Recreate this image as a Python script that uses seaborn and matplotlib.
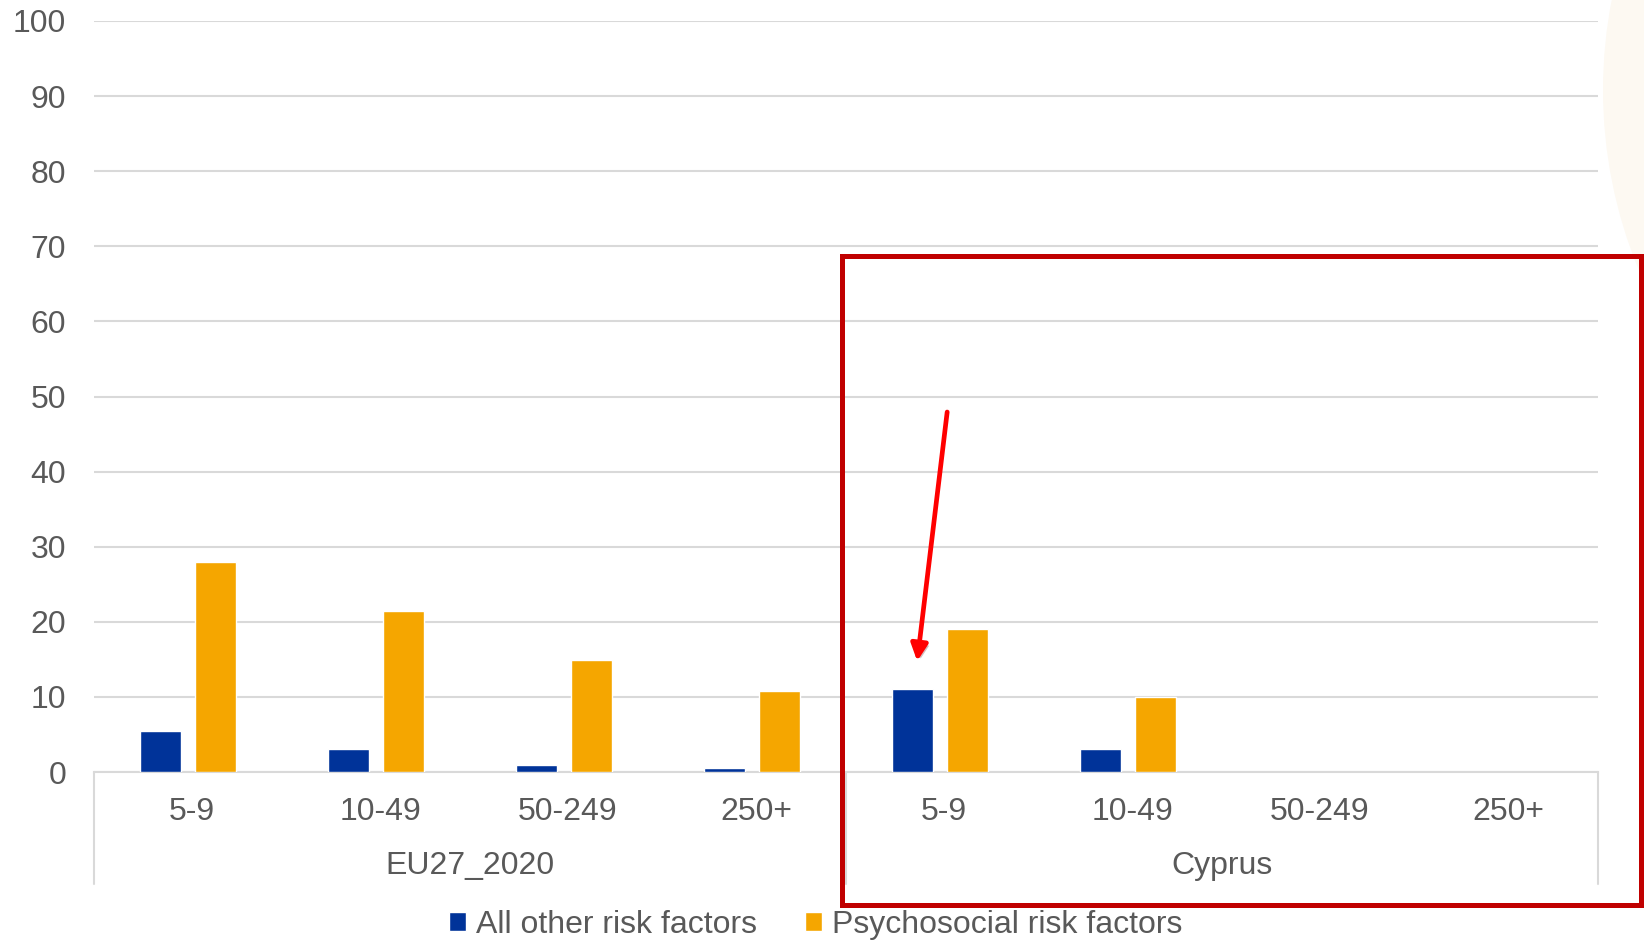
import numpy as np
import pandas as pd
import matplotlib
matplotlib.use("Agg")
import matplotlib.pyplot as plt
import matplotlib.patheffects as pe
from matplotlib.patches import Rectangle, Ellipse
from matplotlib.transforms import blended_transform_factory, ScaledTranslation
import seaborn as sns

# データ
groups = ["EU27_2020", "Cyprus"]
sizes = ["5-9", "10-49", "50-249", "250+"]
series = ["All other risk factors", "Psychosocial risk factors"]
other_risk = [5.4, 3.1, 0.9, 0.5, 11.0, 3.0, np.nan, np.nan]
psycho_risk = [28.0, 21.4, 14.9, 10.8, 19.0, 10.0, np.nan, np.nan]

colors = ["#003399", "#F5A600"]
text_col = "#595959"
grid_col = "#D9D9D9"
fs = 23

cats = [f"{g}|{s}" for g in groups for s in sizes]
df = pd.DataFrame({
    "cat": cats * 2,
    "series": [series[0]] * len(cats) + [series[1]] * len(cats),
    "value": other_risk + psycho_risk,
})

sns.set_style("white")
plt.rcParams["font.family"] = ["Liberation Sans", "DejaVu Sans"]

fig = plt.figure(figsize=(16.44, 9.43), dpi=100)

# 右上の薄い円（背景装飾）
fig.add_artist(Ellipse((2074 / 1644, 1 - 90 / 943), 2 * 471 / 1644, 2 * 471 / 943,
                       transform=fig.transFigure, facecolor="#FDF9F2",
                       edgecolor="none", zorder=0))

ax = fig.add_axes([94 / 1644, 1 - 772 / 943, (1598 - 94) / 1644, (772 - 21) / 943])
ax.patch.set_alpha(0)

sns.barplot(data=df, x="cat", y="value", hue="series", order=cats,
            hue_order=series, palette=colors, saturation=1, width=0.58,
            gap=0.25, errorbar=None, ax=ax, zorder=3)

ax.set_ylim(0, 100)
ax.set_xlim(-0.5, len(cats) - 0.5)
ax.set_yticks(range(0, 101, 10))
ax.yaxis.grid(True, color=grid_col, linewidth=1.5, zorder=0)
ax.set_axisbelow(True)
for s in ["top", "right", "left"]:
    ax.spines[s].set_visible(False)
ax.spines["bottom"].set_color(grid_col)
ax.spines["bottom"].set_linewidth(1.5)

ax.set_xticks(range(len(cats)))
ax.set_xticklabels(sizes * len(groups))
ax.tick_params(axis="x", length=0, pad=18, labelsize=fs, labelcolor=text_col)
ax.tick_params(axis="y", length=0, pad=20, labelsize=fs, labelcolor=text_col)
ax.set_xlabel("")
ax.set_ylabel("")
shift = ScaledTranslation(4 / 100, 0, fig.dpi_scale_trans)
for lab in ax.get_xticklabels():
    lab.set_transform(lab.get_transform() + shift)

# グループ区切り線とグループ名
trans = blended_transform_factory(ax.transData, ax.transAxes)
for xb in [-0.5, 3.5, 7.5]:
    ax.plot([xb, xb], [0, -0.149], transform=trans, color=grid_col,
            linewidth=1.5, clip_on=False)
for i, g in enumerate(groups):
    ax.text(i * len(sizes) + 1.5, -0.125, g, transform=trans, ha="center",
            va="center", fontsize=fs, color=text_col)

# 凡例
sns.move_legend(ax, "center", bbox_to_anchor=(0.496, 0.019),
                bbox_transform=fig.transFigure, ncol=2, frameon=False,
                title=None, fontsize=fs, handlelength=0.55, handleheight=0.55,
                handletextpad=0.3, columnspacing=1.5)
for t in ax.get_legend().get_texts():
    t.set_color(text_col)

# 赤枠
fig.add_artist(Rectangle((842 / 1644, 1 - 905 / 943), (1641 - 842) / 1644,
                         (905 - 256) / 943, transform=fig.transFigure,
                         fill=False, edgecolor="#C00000", linewidth=3.6,
                         zorder=10))

# 矢印
ax.annotate("", xy=(3.877, 14.4), xytext=(4.04, 48.3),
            arrowprops=dict(arrowstyle="-|>,head_length=1.0,head_width=0.5",
                            color="#FF0000", linewidth=3.4,
                            path_effects=[pe.withSimplePatchShadow(offset=(2, -2), alpha=0.25)]),
            zorder=11, annotation_clip=False)

fig.savefig("out.png", dpi=100)
